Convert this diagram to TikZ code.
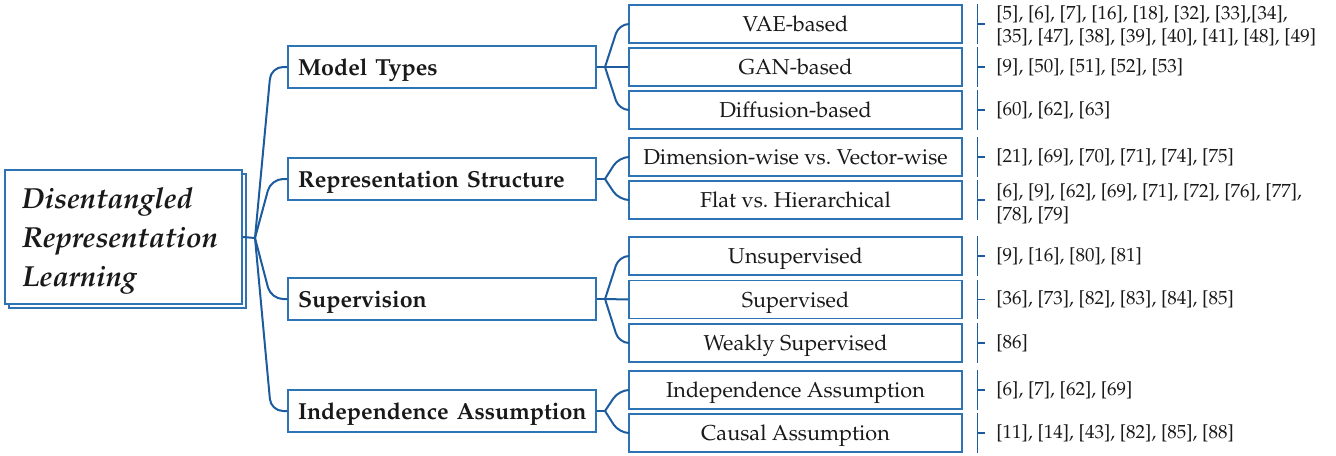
\documentclass[tikz,border=0pt]{standalone}
\usepackage[T1]{fontenc}
\usepackage{mathpazo}
\usetikzlibrary{shadows,calc}
\definecolor{connc}{RGB}{28,92,158}
\definecolor{boxc}{RGB}{46,116,181}
\definecolor{txt}{RGB}{25,25,25}
\frenchspacing
\begin{document}
\begin{tikzpicture}[x=0.5pt,y=-0.5pt,
  conn/.style={draw=connc,line width=1pt},
  brk/.style={draw=connc,line width=0.7pt},
  rootbox/.style={draw=boxc,fill=white,line width=0.75pt,minimum width=118.5pt,minimum height=67pt,
    inner xsep=8.5pt,text width=101.5pt,align=left,text=txt,
    font=\fontsize{14.5}{19.5}\selectfont\bfseries\itshape,
    copy shadow={shadow xshift=2pt,shadow yshift=-2pt}},
  lone/.style={draw=boxc,fill=white,line width=0.75pt,minimum width=154pt,minimum height=21pt,
    inner xsep=0pt,text width=154pt,align=left,text=txt,text height=10pt,text depth=2pt,
    font=\fontsize{11.6}{13}\selectfont\bfseries},
  ltwo/.style={draw=boxc,fill=white,line width=0.75pt,minimum width=166.5pt,minimum height=19pt,
    inner xsep=2pt,align=center,text=txt,text height=9.5pt,text depth=2pt,
    font=\fontsize{10.8}{12}\selectfont},
  refs/.style={anchor=west,align=left,inner sep=0pt,text=txt,
    font=\fontsize{9.5}{11.5}\selectfont}]
\useasboundingbox (0,0) rectangle (1336,455);

% root
\node[rootbox] (root) at (123.5,237) {\rule{0pt}{14pt}Disentangled\\Representation\\Learning};
\coordinate (rj) at (255,238);
\draw[conn] (root.east) -- (rj);

% level 1
\node[lone] (m) at (442,67) {\hspace*{5pt}Model Types};
\node[lone] (r) at (442,179) {\hspace*{5pt}Representation Structure};
\node[lone] (s) at (442,299) {\hspace*{5pt}Supervision};
\node[lone] (i) at (442,411) {\hspace*{5pt}Independence Assumption};
\foreach \n/\yy in {m/67,r/179,s/299,i/411}{
  \draw[conn,rounded corners=6pt] (rj) -- (271,\yy) -- (\n.west);
}

% level 2
\node[ltwo] (c1) at (795.5,24) {VAE-based};
\node[ltwo] (c2) at (795.5,67) {GAN-based};
\node[ltwo] (c3) at (795.5,110) {Diffusion-based};
\node[ltwo] (c4) at (795.5,157) {Dimension-wise vs. Vector-wise};
\node[ltwo] (c5) at (795.5,200) {Flat vs. Hierarchical};
\node[ltwo] (c6) at (795.5,256) {Unsupervised};
\node[ltwo] (c7) at (795.5,299.5) {Supervised};
\node[ltwo] (c8) at (795.5,343) {Weakly Supervised};
\node[ltwo] (c9) at (795.5,390) {Independence Assumption};
\node[ltwo] (c10) at (795.5,433) {Causal Assumption};

\coordinate (jm) at (605,67);
\coordinate (jr) at (605,179);
\coordinate (js) at (605,299);
\coordinate (ji) at (605,411);
\draw[conn] (m.east) -- (jm);
\draw[conn] (r.east) -- (jr);
\draw[conn] (s.east) -- (js);
\draw[conn] (i.east) -- (ji);
\foreach \j/\c/\yy in {jm/c1/24,jm/c3/110,jr/c4/157,jr/c5/200,js/c6/256,js/c8/343,ji/c9/390,ji/c10/433}{
  \draw[conn,rounded corners=5pt] (\j) -- (619,\yy) -- (\c.west);
}
\draw[conn] (jm) -- (c2.west);
\draw[conn] (js) -- (c7.west);

% references
\node[refs] (r1) at (996,26) {[5], [6], [7], [16], [18], [32], [33],[34],\\{}[35], [47], [38], [39], [40], [41], [48], [49]};
\node[refs] (r2) at (996,67) {[9], [50], [51], [52], [53]};
\node[refs] (r3) at (996,110) {[60], [62], [63]};
\node[refs] (r4) at (996,157) {[21], [69], [70], [71], [74], [75]};
\node[refs] (r5) at (996,204) {[6], [9], [62], [69], [71], [72], [76], [77],\\{}[78], [79]};
\node[refs] (r6) at (996,256) {[9], [16], [80], [81]};
\node[refs] (r7) at (996,299.5) {[36], [73], [82], [83], [84], [85]};
\node[refs] (r8) at (996,343) {[86]};
\node[refs] (r9) at (996,390) {[6], [7], [62], [69]};
\node[refs] (r10) at (996,433) {[11], [14], [43], [82], [85], [88]};
\foreach \c in {c1,c2,c3,c4,c5,c6,c7,c8,c9,c10}{
  \draw[brk] ($(\c.north east)+(15,0)$) -- ($(\c.south east)+(15,0)$);
  \draw[brk] ($(\c.east)+(15,0)$) -- ($(\c.east)+(22,0)$);
}
\end{tikzpicture}
\end{document}
